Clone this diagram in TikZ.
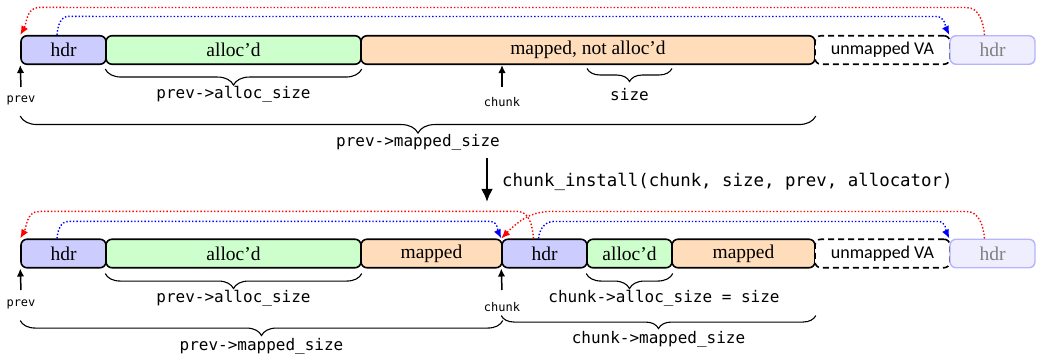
\documentclass[tikz,border=0pt]{standalone}
\usepackage{fontspec}
\setmonofont{DejaVu Sans Mono}
\newfontfamily\boxserif{Liberation Serif}
\newfontfamily\boxsans{Carlito}
\usetikzlibrary{arrows.meta,decorations.pathreplacing,calc}
\definecolor{hdrfill}{RGB}{204,204,255}
\definecolor{allocfill}{RGB}{204,255,204}
\definecolor{mapfill}{RGB}{255,221,187}
\definecolor{ghostfill}{RGB}{238,238,255}
\definecolor{ghostdraw}{RGB}{180,180,255}
\definecolor{ghosttext}{RGB}{128,128,128}
\tikzset{
  box/.style={draw=black, line width=1.6pt, rounded corners=6pt, minimum height=28.5pt, inner sep=0pt, font=\boxserif\fontsize{19.5}{21}\selectfont},
  hdrbox/.style={box, fill=hdrfill, minimum width=85pt},
  allocbox/.style={box, fill=allocfill},
  mapbox/.style={box, fill=mapfill},
  unmapbox/.style={box, dashed, dash pattern=on 6pt off 4pt, fill=white, minimum width=135pt, font=\boxsans\fontsize{18}{20}\selectfont},
  ghostbox/.style={box, draw=ghostdraw, line width=1.4pt, fill=ghostfill, text=ghosttext, minimum width=85pt},
  redptr/.style={draw=red, line width=1.4pt, dash pattern=on 1.4pt off 2pt, -{Latex[length=9pt,width=7.5pt]}},
  blueptr/.style={draw=blue, line width=1.4pt, dash pattern=on 1.4pt off 2pt, -{Latex[length=9pt,width=7.5pt]}},
  bracestyle/.style={draw=black, line width=1.1pt, decorate, decoration={brace, mirror, amplitude=#1}},
  bracestyle/.default=15pt,
  lbl/.style={inner sep=0pt, font=\ttfamily\fontsize{16}{18}\selectfont},
  smalllbl/.style={inner sep=0pt, font=\ttfamily\fontsize{12}{14}\selectfont},
  ptr/.style={draw=black, line width=1.5pt, -{Latex[length=8pt,width=7.5pt]}},
  bigarrow/.style={draw=black, line width=2.6pt, -{Latex[length=13pt,width=12pt]}},
}
\begin{document}
\begin{tikzpicture}[x=1pt,y=1pt]
\useasboundingbox (0,0) rectangle (1039,-358);

% ---------- top row ----------
\node[hdrbox] (h1) at (63.5,-50) {hdr};
\node[allocbox, minimum width=255pt] (a1) at (233.5,-50) {alloc’d};
\node[mapbox, minimum width=454pt] (m1) at (588,-50) {mapped, not alloc’d};
\node[unmapbox] (u1) at (882.5,-50) {unmapped VA};
\node[ghostbox] (g1) at (992.5,-50) {hdr};

\draw[redptr] ([xshift=-8pt]g1.north) to[out=95,in=0] ([xshift=-26pt,yshift=27.5pt]g1.north)
  -- ([xshift=19pt,yshift=27.5pt]h1.north west) to[out=180,in=60] (h1.north west);
\draw[blueptr] ([xshift=-6.5pt]h1.north) to[out=85,in=180] ([xshift=5pt,yshift=18.5pt]h1.north)
  -- ([xshift=-13pt,yshift=18.5pt]g1.north west) to[out=0,in=115] (g1.north west);

\coordinate (pa1) at (21,-87);
\coordinate (ca1) at (502,-87);
\draw[ptr] (pa1) -- (h1.south west);
\draw[ptr] (ca1) -- (ca1 |- h1.south);
\node[smalllbl] (pl1) at (21,-100) {prev};
\node[smalllbl] (cl1) at (502,-102) {chunk};

\draw[bracestyle=16pt] ([yshift=-4pt]a1.south west) -- ([yshift=-4pt]a1.south east);
\node[lbl] (al1) at (233.5,-94) {prev->alloc\_size};
\coordinate (s1) at (587,-68.5);
\coordinate (s2) at (672,-68.5);
\draw[bracestyle=13pt] (s1) -- (s2);
\node[lbl] (sz) at (629.5,-95) {size};
\draw[bracestyle=17pt] ([yshift=-51pt]h1.south west) -- ([yshift=-51pt]m1.south east);
\node[lbl] (ms1) at (418,-142) {prev->mapped\_size};

% ---------- transition ----------
\coordinate (ms) at (487,-158);
\coordinate (me) at (487,-202);
\draw[bigarrow] (ms) -- (me);
\node[anchor=west, inner sep=0pt, font=\ttfamily\fontsize{17.4}{19}\selectfont] (inst) at (502,-182) {chunk\_install(chunk, size, prev, allocator)};

% ---------- bottom row ----------
\node[hdrbox] (h2) at (63.5,-253.5) {hdr};
\node[allocbox, minimum width=255pt] (a2) at (233.5,-253.5) {alloc’d};
\node[mapbox, minimum width=141pt] (m2) at (431.5,-253.5) {mapped};
\node[hdrbox] (h3) at (544.5,-253.5) {hdr};
\node[allocbox, minimum width=85pt] (a3) at (629.5,-253.5) {alloc’d};
\node[mapbox, minimum width=143pt] (m3) at (743.5,-253.5) {mapped};
\node[unmapbox] (u2) at (882.5,-253.5) {unmapped VA};
\node[ghostbox] (g2) at (992.5,-253.5) {hdr};

\draw[blueptr] ([xshift=-6.5pt]h2.north) to[out=85,in=180] ([xshift=5pt,yshift=17pt]h2.north)
  -- ([xshift=-11pt,yshift=17pt]h3.north west) to[out=0,in=115] (h3.north west);
\draw[redptr] ([xshift=-11pt]h3.north) to[out=95,in=0] ([xshift=-27pt,yshift=27pt]h3.north)
  -- ([xshift=19pt,yshift=27pt]h2.north west) to[out=180,in=60] (h2.north west);
\draw[redptr] ([xshift=-8pt]g2.north) to[out=95,in=0] ([xshift=-26pt,yshift=27pt]g2.north)
  -- ([xshift=50pt,yshift=27pt]h3.north west) to[out=180,in=45] (h3.north west);
\draw[blueptr] ([xshift=-6pt]h3.north) to[out=85,in=180] ([xshift=9pt,yshift=17pt]h3.north)
  -- ([xshift=-11pt,yshift=17pt]g2.north west) to[out=0,in=115] (g2.north west);

\coordinate (pa2) at (21,-290);
\coordinate (ca2) at (502,-290);
\draw[ptr] (pa2) -- (h2.south west);
\draw[ptr] (ca2) -- (h3.south west);
\node[smalllbl] (pl2) at (21,-304) {prev};
\node[smalllbl] (cl2) at (502,-307) {chunk};

\draw[bracestyle=15pt] ([yshift=-5pt]a2.south west) -- ([yshift=-5pt]a2.south east);
\node[lbl] (al2) at (233.5,-298) {prev->alloc\_size};
\draw[bracestyle=15pt] ([yshift=-5pt]a3.south west) -- ([yshift=-5pt]a3.south east);
\node[lbl] (cal) at (664,-298) {chunk->alloc\_size = size};
\draw[bracestyle=15pt] ([yshift=-52pt]h2.south west) -- ([yshift=-52pt]m2.south east);
\node[lbl] (pms) at (261.5,-346) {prev->mapped\_size};
\draw[bracestyle=13pt] ([yshift=-47pt]h3.south west) -- ([yshift=-47pt]m3.south east);
\node[lbl] (cms) at (658.5,-339) {chunk->mapped\_size};
\end{tikzpicture}
\end{document}
